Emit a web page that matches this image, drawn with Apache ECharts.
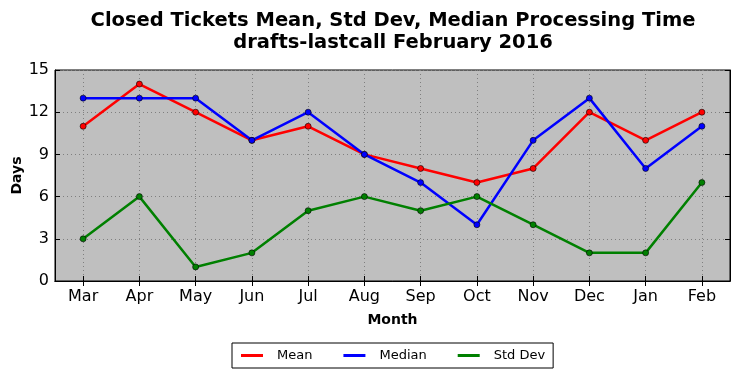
<!DOCTYPE html>
<html><head><meta charset="utf-8">
<script src="https://cdn.jsdelivr.net/npm/echarts@6/dist/echarts.min.js"></script>
<style>html,body{margin:0;padding:0;background:#fff}#c{width:740px;height:378px}</style>
</head><body><div id="c"></div>
<script>
const months = ['Mar','Apr','May','Jun','Jul','Aug','Sep','Oct','Nov','Dec','Jan','Feb'];
const meanVals = [11,14,12,10,11,9,8,7,8,12,10,12];
const medianVals = [13,13,13,10,12,9,7,4,10,13,8,11];
const stdVals = [3,6,1,2,5,6,5,6,4,2,2,7];
const yTicks = {min:0, max:15, interval:3};

const font = 'DejaVu Sans';
const chart = echarts.init(document.getElementById('c'));
function mk(name, data, color){
  return {name, type:'line', data, xAxisIndex:0, yAxisIndex:0,
    symbol:'circle', symbolSize:6, showSymbol:true,
    lineStyle:{color, width:2.5}, itemStyle:{color, borderColor:'#000', borderWidth:0.6},
    emphasis:{disabled:true}, animation:false, z:3};
}
chart.setOption({
  animation:false,
  title:{text:'Closed Tickets Mean, Std Dev, Median Processing Time\ndrafts-lastcall February 2016',
    left:388, textAlign:'center', top:5,
    textStyle:{fontFamily:font, fontSize:19.5, fontWeight:'bold', color:'#000', lineHeight:22}},
  grid:{left:55, right:10, top:70, bottom:97, outerBoundsMode:'none', containLabel:false,
    show:true, backgroundColor:'#bfbfbf', borderColor:'#000', borderWidth:1},
  legend:{bottom:10, left:232, itemWidth:22, itemHeight:3, icon:'rect', itemGap:31,
    itemStyle:{borderWidth:0},
    borderColor:'#000', borderWidth:1, borderRadius:0, padding:[6,8,6,9],
    textStyle:{fontFamily:font, fontSize:13, color:'#000', padding:[0,0,0,9]},
    data:['Mean','Median','Std Dev']},
  xAxis:[{type:'category', data:months, boundaryGap:true, position:'bottom',
    name:'Month', nameLocation:'middle', nameGap:32,
    nameTextStyle:{fontFamily:font, fontSize:14, fontWeight:'bold', color:'#000'},
    axisLine:{show:true, lineStyle:{color:'#000', width:1}},
    axisTick:{show:true, inside:true, alignWithLabel:true, length:5, lineStyle:{color:'#000'}},
    axisLabel:{fontFamily:font, fontSize:16, color:'#000', margin:8},
    splitLine:{show:true, alignWithLabel:true, lineStyle:{color:'#7f7f7f', type:[1,3], width:1}}},
   {type:'category', data:months, boundaryGap:true, position:'top',
    axisLine:{show:true, lineStyle:{color:'#000', width:1}},
    axisTick:{show:true, inside:true, alignWithLabel:true, length:5, lineStyle:{color:'#000'}},
    axisLabel:{show:false}, splitLine:{show:false}}],
  yAxis:[{type:'value', min:yTicks.min, max:yTicks.max, interval:yTicks.interval, position:'left',
    name:'Days', nameLocation:'middle', nameGap:31, nameMoveOverlap:false,
    nameTextStyle:{fontFamily:font, fontSize:14, fontWeight:'bold', color:'#000'},
    axisLine:{show:true, lineStyle:{color:'#000', width:1}},
    axisTick:{show:true, inside:true, length:5, lineStyle:{color:'#000'}},
    axisLabel:{fontFamily:font, fontSize:16, color:'#000', margin:6},
    splitLine:{show:true, lineStyle:{color:'#7f7f7f', type:[1,3], width:1}}},
   {type:'value', min:yTicks.min, max:yTicks.max, interval:yTicks.interval, position:'right',
    axisLine:{show:true, lineStyle:{color:'#000', width:1}},
    axisTick:{show:true, inside:true, length:5, lineStyle:{color:'#000'}},
    axisLabel:{show:false}, splitLine:{show:false}}],
  series:[mk('Mean', meanVals, '#ff0000'), mk('Median', medianVals, '#0000ff'), mk('Std Dev', stdVals, '#008000')]
});
</script></body></html>
